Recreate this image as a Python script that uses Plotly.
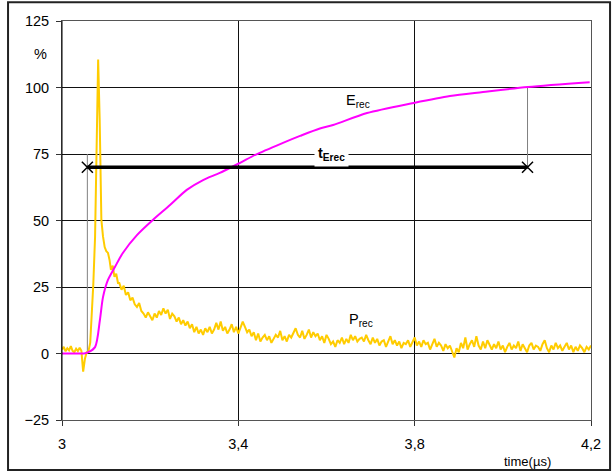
import plotly.graph_objects as go

# ---------------- data ----------------
# E_rec (magenta)
erec_t = [3.000, 3.030, 3.050, 3.060, 3.075, 3.086, 3.093, 3.104, 3.120, 3.138, 3.170,
          3.206, 3.245, 3.283, 3.320, 3.358, 3.404, 3.440, 3.500, 3.540, 3.585, 3.615,
          3.692, 3.798, 3.880, 3.955, 4.057, 4.197]
erec_v = [0.0, 0.0, 0.0, 0.5, 2.4, 12.6, 21.2, 27.6, 32.5, 37.8, 44.5,
          50.2, 55.8, 61.5, 65.2, 67.9, 71.7, 74.8, 79.1, 81.8, 84.6, 85.9,
          90.4, 94.2, 96.8, 98.3, 100.2, 102.0]

# P_rec (yellow): trigger / peak segment
prec_head_t = [3.000, 3.004, 3.008, 3.012, 3.016, 3.020, 3.024, 3.028, 3.032, 3.036,
               3.040, 3.044, 3.048, 3.052, 3.056, 3.060, 3.064, 3.067, 3.071, 3.075,
               3.0786, 3.082, 3.0855, 3.0893, 3.093, 3.0968, 3.1005, 3.1043, 3.108,
               3.111, 3.115, 3.119, 3.123, 3.127]
prec_head_v = [1.5, 2.5, 0.8, 2.0, 1.2, 2.8, 1.0, 0.5, 1.8, 0.9,
               2.2, 1.0, -6.8, -2.0, 0.5, 0.8, 4.0, 12.6, 26.0, 43.8,
               75.4, 110.5, 87.8, 50.2, 44.0, 40.0, 38.5, 37.8, 35.0,
               31.4, 33.0, 28.8, 30.0, 26.5]

# P_rec tail: from 3.130 to 4.200 every 0.005 us
prec_tail_start = 3.130
prec_tail_step = 0.005
prec_tail_v = [
    26.5, 24, 25.5, 22, 23, 20, 21, 18.5, 17.5, 19,
    16, 15, 13.5, 15.5, 14, 12.5, 15, 13.5, 16, 14.5,
    17, 15, 16.5, 13, 15, 14, 12, 13.5, 11, 12.5,
    10.5, 12, 9.5, 11, 8, 10, 7.5, 9, 7, 9.5,
    8, 10, 7.5, 9, 11.5, 9, 12, 8.5, 10, 7.5,
    9, 11, 8, 10, 7.5, 9.5, 12, 10, 8, 9,
    6.5, 8, 5, 7.5, 4.5, 6, 7, 5, 6.5, 4,
    5.5, 7, 6, 8.5, 5, 6.5, 4.5, 7, 6, 8,
    9.5, 7, 6, 8.5, 5.5, 7, 9, 6, 8, 6.5,
    7.5, 5, 6.5, 4, 7, 5.5, 3.5, 4.5, 2.5, 5,
    4, 6, 3.5, 5.5, 4, 7, 5, 6.5, 4.5, 5.5,
    6, 4.5, 7, 5, 3.5, 6, 4, 5.5, 3, 4.5,
    5, 2.5, 4.5, 6.5, 3.5, 5, 3, 4.5, 2, 4,
    3.5, 5, 2.5, 4, 6, 3, 4.5, 2.5, 5, 3.5,
    4, 1.5, 3.5, 5.5, 2.5, 4, 3, 1, 3.5, 2,
    3, 1, -1.5, 2, 0.5, 4, 2, 6, 1.5, 3.5,
    5, 2.5, 6.5, 3, 1.5, 4.5, 2, 5, 3, 1.5,
    3.5, 2, 4.5, 1.5, 3, 0.5, 2.5, 4, 1.5, 3,
    2, 4.5, 1, 3.5, 2, 0.5, 3, 4, 1.5, 3,
    2.5, 1, 3.5, 5, 2, 0.5, 3, 1.5, 4, 2,
    3, 1, 2.5, 4, 1.5, 3, 0.5, 2.5, 1, 3,
    2, 0.5, 2.5, 1.5, 3,
]

# t_Erec marker
t_start = 3.0575
t_end = 4.056
t_level = 70
e_start_level = 75
e_end_level = 100

x_ticks = [3, 3.4, 3.8, 4.2]
y_ticks = [-25, 0, 25, 50, 75, 100, 125]

# ---------------- figure ----------------
prec_tail_t = [round(prec_tail_start + i * prec_tail_step, 4) for i in range(len(prec_tail_v))]
prec_t = prec_head_t + prec_tail_t
prec_v = prec_head_v + prec_tail_v

FONT = "Liberation Sans, Arial, sans-serif"
fig = go.Figure()

# marker verticals (grey)
fig.add_trace(go.Scatter(x=[t_start, t_start], y=[0, e_start_level], mode="lines",
                         line=dict(color="#808080", width=1), hoverinfo="skip", showlegend=False))
fig.add_trace(go.Scatter(x=[t_end, t_end], y=[t_level, e_end_level], mode="lines",
                         line=dict(color="#808080", width=1), hoverinfo="skip", showlegend=False))

fig.add_trace(go.Scatter(x=prec_t, y=prec_v, mode="lines",
                         line=dict(color="#FFCC00", width=2), showlegend=False))
fig.add_trace(go.Scatter(x=erec_t, y=erec_v, mode="lines", line_shape="spline",
                         line=dict(color="#FF00FF", width=2, smoothing=0.8), showlegend=False))

# t_Erec arrow line
fig.add_trace(go.Scatter(x=[t_start, t_end], y=[t_level, t_level], mode="lines+markers",
                         line=dict(color="black", width=3.5),
                         marker=dict(symbol="x-thin", size=11, line=dict(color="black", width=1.5)),
                         showlegend=False))

TICKFONT = dict(family=FONT, size=14.5, color="black")
fig.update_xaxes(range=[3, 4.2], tickvals=x_ticks, showgrid=True, gridcolor="#111111", gridwidth=1,
                 showline=True, linecolor="#555555", linewidth=1, mirror=True,
                 ticks="outside", ticklen=5, tickcolor="#333333", zeroline=False,
                 tickfont=TICKFONT, ticklabelstandoff=6)
fig.update_yaxes(range=[-25, 125], tickvals=y_ticks, showgrid=True, gridcolor="#111111", gridwidth=1,
                 showline=True, linecolor="#555555", linewidth=1, mirror=True,
                 ticks="outside", ticklen=5, tickcolor="#333333", zeroline=False,
                 tickfont=TICKFONT, ticklabelstandoff=4)

# left axis line black
fig.add_shape(type="line", xref="paper", yref="paper", x0=0, x1=0, y0=0, y1=1,
              line=dict(color="black", width=1))

# outer frame
fig.add_shape(type="rect", xref="paper", yref="paper",
              x0=-0.102, x1=1.036, y0=-0.125, y1=1.047,
              line=dict(color="#222222", width=2))

ann_font = dict(family=FONT, size=14.5, color="black")
fig.add_annotation(x=-0.057, xref="paper", y=112.6, yref="y", text="%",
                   showarrow=False, font=ann_font)
fig.add_annotation(x=3.671, y=95.0, text="E<sub>rec</sub>", showarrow=False, font=ann_font)
fig.add_annotation(x=3.678, y=12.5, text="P<sub>rec</sub>", showarrow=False, font=ann_font)
fig.add_annotation(x=3.612, y=75, text="<b>t<sub>Erec</sub></b>", showarrow=False,
                   font=ann_font, bgcolor="white", borderpad=3)
fig.add_annotation(x=4.057, y=-0.103, yref="paper", yanchor="middle", xanchor="center",
                   text="time(µs)", showarrow=False,
                   font=dict(family=FONT, size=13, color="black"))

fig.update_layout(width=612, height=475, margin=dict(l=62, r=21, t=21, b=55),
                  plot_bgcolor="white", paper_bgcolor="white", separators=", ",
                  font=dict(family=FONT, size=14, color="black"))

fig.write_html("out.html", config={"displayModeBar": False},
               post_script="document.body.style.margin='0';document.body.style.overflow='hidden';")
